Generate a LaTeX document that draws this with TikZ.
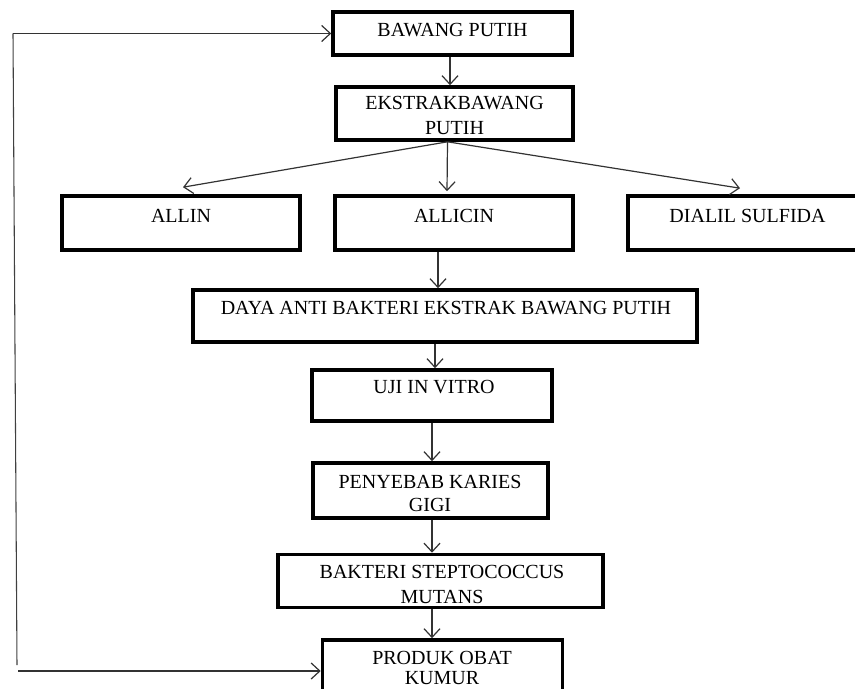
\documentclass[tikz,border=0pt]{standalone}
\usepackage{fontspec}
\setmainfont{Liberation Serif}
\usetikzlibrary{arrows.meta}
\begin{document}
\begin{tikzpicture}[x=0.75pt,y=-0.75pt,
  box/.style={draw=black, line width=2.7pt, rectangle, inner sep=0pt},
  sz/.style 2 args={minimum width=#1*0.75pt, minimum height=#2*0.75pt},
  lbl/.style={font=\fontsize{15}{18}\selectfont, inner sep=0pt, anchor=base},
  arr/.style={draw=black!80, line width=0.9pt, -{Straight Barb[length=6.5pt,width=12pt]}},
  fb/.style={draw=black!75, line width=0.8pt}]
\useasboundingbox (0,0) rectangle (855,688);

% boxes
\node[box, sz={239}{43}] (bawang)   at (452.5,33.5) {};
\node[box, sz={237}{53}] (ekstrak)  at (454.5,113.5) {};
\node[box, sz={238}{54}] (allin)    at (181,223) {};
\node[box, sz={238}{54}] (allicin)  at (454,223) {};
\node[box, sz={242}{54}] (dialil)   at (749,223) {};
\node[box, sz={504}{52}] (daya)     at (445,316) {};
\node[box, sz={240}{51}] (uji)      at (432,395.5) {};
\node[box, sz={235}{55}] (penyebab) at (430.5,490.5) {};
\node[box, sz={325}{53}] (bakteri)  at (440.5,581) {};
\node[box, sz={240}{62}] (produk)   at (442.5,671) {};

% texts
\node[lbl] (tbawang) at (452.5,37) {BAWANG PUTIH};
\node[lbl] (tekstrak1) at (454.5,110) {EKSTRAKBAWANG};
\node[lbl] (tekstrak2) at (454.5,134) {PUTIH};
\node[lbl] (tallin) at (181,222) {ALLIN};
\node[lbl] (tallicin) at (454,222) {ALLICIN};
\node[lbl] (tdialil) at (747.5,222) {DIALIL SULFIDA};
\node[lbl] (tdaya) at (446,314) {DAYA ANTI BAKTERI EKSTRAK BAWANG PUTIH};
\node[lbl] (tuji) at (434,393) {UJI IN VITRO};
\node[lbl] (tpeny1) at (430,488) {PENYEBAB KARIES};
\node[lbl] (tpeny2) at (430,511) {GIGI};
\node[lbl] (tbakt1) at (442,578) {BAKTERI STEPTOCOCCUS};
\node[lbl] (tbakt2) at (442,603) {MUTANS};
\node[lbl] (tprod1) at (442,664) {PRODUK OBAT};
\node[lbl] (tprod2) at (442,684) {KUMUR};

% connectors
\draw[arr] ([shift={(-2.5,0)}]bawang.south) -- ([shift={(-4.5,0)}]ekstrak.north);
\draw[arr] ([shift={(-7,0)}]ekstrak.south) -- ([shift={(2,-7)}]allin.north);
\draw[arr] ([shift={(-7,0)}]ekstrak.south) -- ([shift={(-7,-3)}]allicin.north);
\draw[arr] ([shift={(-7,0)}]ekstrak.south) -- ([shift={(-9,-6)}]dialil.north);
\draw[arr] ([shift={(-16,0)}]allicin.south) -- ([shift={(-7,0)}]daya.north);
\draw[arr] ([shift={(-10,0)}]daya.south) -- ([shift={(3,0)}]uji.north);
\draw[arr] (uji.south) -- ([shift={(1.5,0)}]penyebab.north);
\draw[arr] ([shift={(1.5,0)}]penyebab.south) -- ([shift={(-8.5,0)}]bakteri.north);
\draw[arr] ([shift={(-8.5,0)}]bakteri.south) -- ([shift={(-10.5,0)}]produk.north);

% feedback loop
\coordinate (fbtop) at (13,33.5);
\coordinate (fbend) at (17,665);
\coordinate (fbbot) at (18,671);
\draw[fb] (fbend) -- (fbtop);
\draw[arr] (fbtop) -- (bawang.west);
\draw[arr] (fbbot) -- (produk.west);
\end{tikzpicture}
\end{document}
